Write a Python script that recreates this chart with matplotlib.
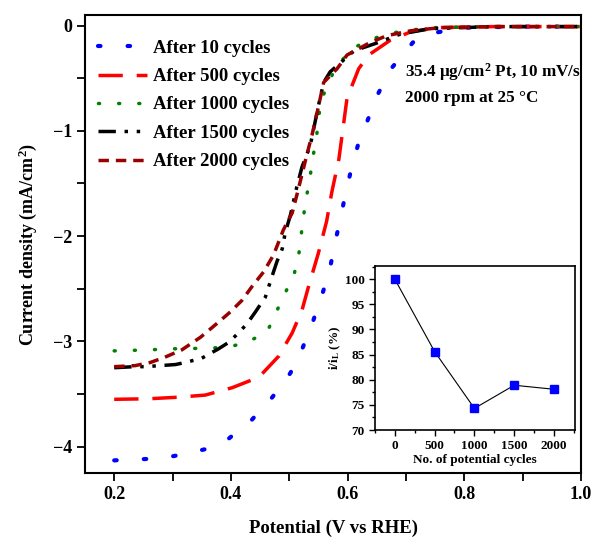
import matplotlib
matplotlib.use('Agg')
import matplotlib.pyplot as plt
from matplotlib.ticker import MultipleLocator

plt.rcParams['font.family'] = ['Liberation Serif', 'DejaVu Serif']
plt.rcParams['font.weight'] = 'bold'
plt.rcParams['mathtext.fontset'] = 'custom'
plt.rcParams['mathtext.rm'] = 'Liberation Serif:bold'
plt.rcParams['mathtext.it'] = 'Liberation Serif:bold:italic'

# LSV curves (potential V vs RHE, current mA/cm2)
x10 = [0.20, 0.243, 0.282, 0.32, 0.359, 0.397, 0.435, 0.471, 0.502, 0.523, 0.540,
       0.555, 0.569, 0.577, 0.587, 0.596, 0.606, 0.618, 0.635, 0.652, 0.676, 0.712,
       0.748, 0.80, 0.90, 1.0]
y10 = [-4.13, -4.12, -4.11, -4.07, -4.02, -3.92, -3.75, -3.53, -3.30, -3.06, -2.82,
       -2.58, -2.33, -2.10, -1.85, -1.61, -1.37, -1.13, -0.89, -0.65, -0.40, -0.16,
       -0.07, -0.02, -0.01, -0.01]

x500 = [0.20, 0.259, 0.31, 0.356, 0.402, 0.448, 0.482, 0.505, 0.522, 0.533, 0.55,
        0.564, 0.573, 0.585, 0.599, 0.619, 0.636, 0.673, 0.708, 0.75, 0.85, 1.0]
y500 = [-3.55, -3.545, -3.53, -3.51, -3.44, -3.34, -3.14, -2.92, -2.70, -2.48, -2.16,
        -1.86, -1.58, -1.27, -0.69, -0.41, -0.28, -0.14, -0.06, -0.02, -0.01, -0.01]

x1000 = [0.20, 0.263, 0.292, 0.32, 0.349, 0.378, 0.406, 0.434, 0.462, 0.477, 0.493,
         0.508, 0.516, 0.52, 0.524, 0.529, 0.535, 0.539, 0.545, 0.55, 0.553, 0.579,
         0.608, 0.639, 0.693, 0.75, 0.85, 1.0]
y1000 = [-3.09, -3.08, -3.07, -3.07, -3.065, -3.06, -3.04, -2.99, -2.91, -2.73, -2.54,
         -2.37, -2.19, -2.01, -1.83, -1.64, -1.47, -1.30, -1.11, -0.93, -0.73, -0.40,
         -0.22, -0.13, -0.05, -0.02, -0.01, -0.01]

x1500 = [0.20, 0.235, 0.253, 0.279, 0.305, 0.322, 0.35, 0.379, 0.396, 0.413, 0.428,
         0.442, 0.459, 0.47, 0.479, 0.488, 0.493, 0.502, 0.513, 0.522, 0.536, 0.55,
         0.559, 0.57, 0.611, 0.648, 0.691, 0.742, 0.85, 1.0]
y1500 = [-3.25, -3.24, -3.24, -3.23, -3.22, -3.20, -3.16, -3.07, -3.01, -2.92, -2.83,
         -2.72, -2.58, -2.39, -2.24, -2.12, -1.97, -1.80, -1.53, -1.34, -1.14, -0.76,
         -0.54, -0.44, -0.24, -0.17, -0.08, -0.03, -0.01, -0.01]

x2000 = [0.20, 0.236, 0.262, 0.287, 0.316, 0.348, 0.376, 0.399, 0.419, 0.436, 0.456,
         0.473, 0.49, 0.505, 0.513, 0.522, 0.53, 0.539, 0.548, 0.559, 0.582, 0.599,
         0.639, 0.668, 0.708, 0.759, 0.85, 1.0]
y2000 = [-3.24, -3.23, -3.20, -3.15, -3.08, -2.96, -2.83, -2.72, -2.61, -2.48, -2.34,
         -2.18, -1.94, -1.78, -1.61, -1.41, -1.23, -1.04, -0.82, -0.54, -0.41, -0.28,
         -0.16, -0.095, -0.05, -0.02, -0.01, -0.01]

labels = ['After 10 cycles', 'After 500 cycles', 'After 1000 cycles',
          'After 1500 cycles', 'After 2000 cycles']

# inset: retained limiting current
cycles = [0, 500, 1000, 1500, 2000]
ratio = [100, 85.6, 74.3, 78.9, 78.1]

fig = plt.figure(figsize=(5.95, 5.42), dpi=100)
ax = fig.add_axes([0.1429, 0.1273, 0.8336, 0.845])

ax.plot(x10, y10, color='#0000ff', lw=3, linestyle=(0, (0.6, 6.5)),
        dash_capstyle='round', label=labels[0])
ax.plot(x500, y500, color='#ff0000', lw=2.5, linestyle=(0, (7, 4)), label=labels[1])
ax.plot(x1000, y1000, color='#008000', lw=2.5, linestyle=(0, (0.3, 5.5)),
        dash_capstyle='round', label=labels[2])
ax.plot(x1500, y1500, color='black', lw=2.5,
        linestyle=(0, (5, 2.5, 1, 2.5, 1, 2.5)), label=labels[3])
ax.plot(x2000, y2000, color='#990000', lw=2.5, linestyle=(0, (3, 2)), label=labels[4])

ax.set_xlim(0.15, 1.0)
ax.set_ylim(-4.25, 0.1)
ax.xaxis.set_major_locator(MultipleLocator(0.2))
ax.xaxis.set_minor_locator(MultipleLocator(0.1))
ax.yaxis.set_major_locator(MultipleLocator(1))
ax.yaxis.set_minor_locator(MultipleLocator(0.5))
ax.tick_params(which='both', direction='out', width=1.3, length=6, labelsize=13)
for s in ax.spines.values():
    s.set_linewidth(1.5)
ax.set_xlabel('Potential (V vs RHE)', fontsize=13.5, fontweight='bold', labelpad=12)
ax.set_ylabel('Current density (mA/cm$^2$)', fontsize=13, fontweight='bold', labelpad=10)

ax.legend(loc='upper left', bbox_to_anchor=(0.0, 0.975), frameon=False,
          fontsize=13.5, handlelength=2.6, handletextpad=0.3, labelspacing=0.6,
          borderaxespad=0.3)

ax.text(0.699, -0.44, '35.4 \u03bcg/cm$^2$ Pt, 10 mV/s', fontsize=12.3,
        fontweight='bold', va='center')
ax.text(0.699, -0.69, '2000 rpm at 25 \u00b0C', fontsize=12.3,
        fontweight='bold', va='center')

ins = fig.add_axes([0.630, 0.2066, 0.336, 0.3026])
ins.plot(cycles, ratio, color='black', lw=0.8, marker='s', markersize=6,
         markerfacecolor='#0000ff', markeredgecolor='#0000ff')
ins.set_xlim(-250, 2260)
ins.set_ylim(70, 102.6)
ins.xaxis.set_major_locator(MultipleLocator(500))
ins.xaxis.set_minor_locator(MultipleLocator(250))
ins.yaxis.set_major_locator(MultipleLocator(5))
ins.yaxis.set_minor_locator(MultipleLocator(2.5))
ins.tick_params(which='both', direction='out', labelsize=9.5, width=1)
ins.tick_params(which='major', length=4)
ins.tick_params(which='minor', length=2.5)
for s in ins.spines.values():
    s.set_linewidth(1.2)
ins.set_xlabel('No. of potential cycles', fontsize=9.5, fontweight='bold', labelpad=1)
ins.set_ylabel('i/i$_\\mathrm{L}$ (%)', fontsize=9.5, fontweight='bold', labelpad=1)

fig.savefig('out.png', dpi=100)
